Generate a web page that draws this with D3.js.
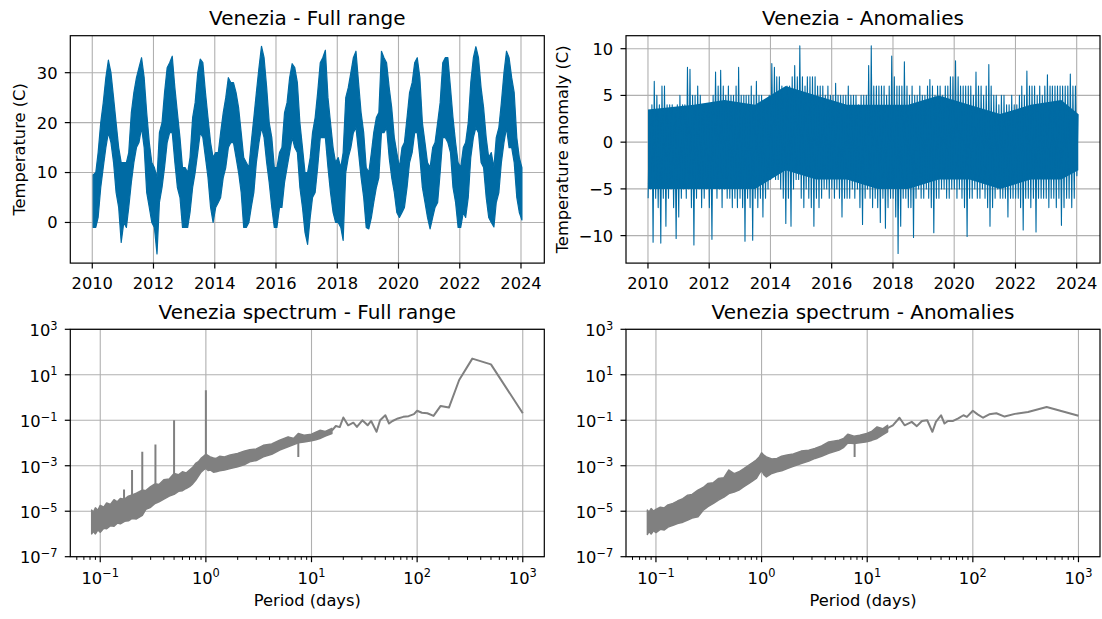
<!DOCTYPE html>
<html>
<head>
<meta charset="utf-8">
<script src="https://cdn.jsdelivr.net/npm/d3@7"></script>
<style>
body { margin: 0; background: #fff; }
svg text { font-family: "DejaVu Sans", sans-serif; fill: #000; }
</style>
</head>
<body>
<svg id="fig" width="1102" height="619"></svg>
<script>
// ---- data ----
// monthly low / high of the Venezia temperature series (C), Jan 2010 .. Jan 2024
var tempLo = [
  -1, -1, 1, 7, 11, 15, 18, 16, 12, 6, 3, -4,        // 2010
  0, -1, 3, 8, 12, 15, 16, 19, 15, 6, 3, 0,          // 2011
  -1, -6.3, 4, 7, 11, 16, 18, 18, 12, 7, 5, -1,      // 2012
  -1, -1, 2, 7, 10, 14, 18, 17, 13, 9, 3, 0,         // 2013
  3, 4, 5, 9, 11, 15, 16, 16, 13, 10, 6, -1,         // 2014
  -1, 0, 3, 6, 12, 16, 19, 17, 12, 8, 3, -1,         // 2015
  -1, 3, 3, 8, 11, 14, 17, 15, 14, 7, 3, -2,         // 2016
  -4.4, 1, 5, 6, 11, 17, 17, 17, 11, 6, 2, 0,        // 2017
  0, -1, -3.6, 10, 13, 15, 18, 19, 14, 9, 5, -1,     // 2018
  -1.3, 1, 4, 7, 9, 18, 18, 19, 13, 9, 6, 2,         // 2019
  1, 2, 3, 7, 12, 14, 18, 18, 13, 7, 4, 1,           // 2020
  -1.3, 1, 3, 4, 10, 17, 17, 16, 14, 7, 4, -1,       // 2021
  -1, 2, 1, 5, 13, 17, 19, 18, 12, 11, 5, 1,         // 2022
  0, -0.9, 4, 6, 12, 16, 19, 15, 15, 12, 5, 2,       // 2023
  0.5                                                // 2024
];
var tempHi = [
  9.5, 10, 14, 20, 24, 29, 32.5, 30, 25, 20, 15, 12,
  12, 12, 14, 22, 26, 29, 31, 33, 29, 22, 16, 12,
  11, 9, 18, 20, 26, 31, 32, 33.3, 27, 22, 17, 11,
  11, 10, 13, 21, 24, 30, 32.7, 32, 26, 21, 16, 13,
  14, 14, 18, 22, 25, 29, 28, 28, 26, 23, 18, 13,
  12, 11, 16, 21, 26, 31, 35.3, 33, 27, 20, 17, 11,
  11, 14, 15, 22, 24, 29, 31.8, 31, 28, 20, 15, 10,
  10, 13, 18, 21, 26, 32, 33, 34.5, 25, 20, 15, 12,
  13, 11, 14, 25, 27, 30, 33, 34.3, 28, 22, 18, 11,
  10, 14, 18, 21, 22, 34.3, 33, 32, 27, 23, 17, 14,
  11, 15, 16, 21, 26, 28, 32, 33, 29, 20, 16, 12,
  11, 15, 16, 20, 24, 32, 33, 33, 27, 21, 16, 12,
  11, 15, 16, 20, 28, 33, 35.2, 33, 27, 23, 17, 13,
  14, 11, 17, 19, 24, 30, 34.3, 33, 29, 26, 17, 13,
  11
];
// monthly extremes of the anomalies (C)
var anomLo = [
  -6, -5, -10.7, -6, -7, -10.8, -6, -9, -6, -5, -7, -10.3,
  -8, -6, -5, -6, -5, -7, -11, -6, -5, -7, -6, -5,
  -7, -10.4, -4, -6, -5, -7, -5, -6, -6, -7, -6, -7,
  -6, -7, -10.6, -6, -7, -10.5, -6, -7, -6, -8, -6, -5,
  -4, -3, -4, -4, -5, -6, -8.7, -6, -9, -5, -4, -4,
  -6, -7, -5, -6, -7, -9, -6, -7, -6, -5, -5, -6,
  -5, -6, -5, -6, -8, -6, -6, -6, -5, -6, -5, -7,
  -8.8, -6, -5, -6, -7, -6, -7, -8.6, -6, -9.2, -7, -6,
  -6, -8, -11.9, -9, -6, -6, -7, -7, -10.2, -6, -5, -6,
  -6, -5, -6, -7, -9.7, -6, -6, -5, -5, -6, -6, -5,
  -5, -6, -5, -6, -7, -10.1, -6, -6, -5, -6, -6, -5,
  -6, -7, -9, -7, -6, -5, -6, -6, -6, -8, -6, -6,
  -6, -6, -7, -9.4, -6, -6, -7, -6, -9.6, -6, -6, -6,
  -6, -7, -6, -6, -7, -6, -8.9, -7, -6, -6, -7, -6,
  -3.6
];
var anomHi = [
  3, 4, 6.5, 5, 4, 6, 6, 4, 4, 4, 3, 4,
  5, 4, 4, 8, 7.8, 5, 5, 6, 5, 4, 4, 4,
  4, 5, 7.5, 6, 7.7, 6, 5, 6, 5, 5, 6, 8,
  5, 5, 5, 5, 6, 5, 6.5, 5, 5, 4, 4, 5,
  8.4, 8, 7, 7, 6, 5, 6, 6, 7, 8.2, 7, 10.3,
  7, 6, 7, 7, 7, 7, 6, 6, 6, 5, 6, 5,
  5, 6.3, 5, 5, 5, 5, 6, 5, 5, 5, 4, 5,
  5, 5, 8.2, 10.3, 6, 6, 6, 6, 6, 5, 6, 9.2,
  7, 6, 6, 6, 8.6, 6, 5, 6, 5, 5, 6, 5,
  5, 6, 6.7, 6, 5, 6, 6, 5, 6, 6, 7, 7,
  8.7, 7, 6, 6, 6, 6, 6, 5, 7.5, 6, 6, 5,
  6, 8.3, 6, 5, 5, 4, 5, 5, 4, 4, 5, 4,
  4, 5, 6, 5, 7.6, 6, 6, 6, 5, 6, 5, 6,
  7.2, 6, 6, 6, 6, 6, 6, 6, 6, 7.3, 6, 6,
  3
];
// the dense core of the anomaly band, one low / high per year
var anomCoreYear = [2010, 2011, 2012, 2013, 2014, 2015, 2016, 2017, 2018, 2019, 2020, 2021, 2022, 2023, 2024];
var anomCoreLo = [-5, -5, -5, -5, -3, -4, -4, -5, -5, -4, -4, -5, -4, -4, -3];
var anomCoreHi = [3.5, 4, 4.5, 4, 6, 5, 4, 4, 4, 5, 4, 3, 4, 4.5, 3];
var yearTicks = [2010, 2012, 2014, 2016, 2018, 2020, 2022, 2024];
var tempTicks = [0, 10, 20, 30];
var anomTicks = [-10, -5, 0, 5, 10];

// spectrum, full range: dense band (period in days, low / high power)
var fullBandP = [0.083, 0.086, 0.09, 0.095, 0.1, 0.108, 0.115, 0.125, 0.135, 0.145, 0.155, 0.17, 0.185, 0.2, 0.22,
  0.25, 0.27, 0.3, 0.33, 0.36, 0.4, 0.45, 0.5, 0.55, 0.6, 0.65, 0.7, 0.75, 0.8, 0.85, 0.9, 0.95, 1.0,
  1.05, 1.1, 1.18, 1.25, 1.35, 1.5, 1.7, 2, 2.3, 2.6, 3, 3.5, 4.2, 5, 6, 6.8, 7.5, 8.5, 10, 11, 12, 13.5, 15.6];
var fullBandHi = [1.12e-5, 9e-6, 1.4e-5, 1.1e-5, 1.8e-5, 1.5e-5, 2.3e-5, 2.0e-5, 3.2e-5, 2.6e-5, 3.6e-5, 3.4e-5, 4.6e-5, 5.2e-5, 6.2e-5,
  8.5e-5, 8.0e-5, 1.2e-4, 1.6e-4, 1.5e-4, 2.4e-4, 2.6e-4, 4.6e-4, 4.0e-4, 5.4e-4, 4.8e-4, 6.5e-4, 8.5e-4, 1.26e-3, 1.5e-3, 2.1e-3, 2.6e-3, 3.2e-3,
  2.8e-3, 2.45e-3, 2.2e-3, 2.1e-3, 2.6e-3, 2.45e-3, 3.0e-3, 3.5e-3, 4.4e-3, 5.1e-3, 5.5e-3, 7.9e-3, 9.0e-3, 1.32e-2, 1.86e-2, 1.6e-2, 2.6e-2, 2.2e-2, 2.45e-2, 3.0e-2, 3.6e-2, 3.2e-2, 4.4e-2];
var fullBandLo = [1.0e-6, 1.3e-6, 1.0e-6, 1.5e-6, 1.2e-6, 1.8e-6, 1.7e-6, 2.3e-6, 2.2e-6, 3.0e-6, 2.8e-6, 3.6e-6, 3.8e-6, 4.8e-6, 4.6e-6,
  6.5e-6, 1.2e-5, 1.5e-5, 2.2e-5, 2.6e-5, 3.4e-5, 4.6e-5, 5.5e-5, 7.5e-5, 8.0e-5, 1.0e-4, 1.2e-4, 1.6e-4, 2.3e-4, 3.5e-4, 5.2e-4, 6.5e-4, 7.6e-4,
  6.2e-4, 6.5e-4, 5.2e-4, 5.4e-4, 6.0e-4, 6.5e-4, 7.5e-4, 8.9e-4, 1.1e-3, 1.48e-3, 1.7e-3, 2.45e-3, 3.2e-3, 4.9e-3, 6.8e-3, 8.5e-3, 1.02e-2, 1.1e-2, 1.26e-2, 1.4e-2, 1.58e-2, 2.0e-2, 2.6e-2];
// narrow peaks / dips
var fullSpikeP    = [0.168, 0.2, 0.25, 0.333, 0.5, 1.0, 7.5];
var fullSpikeFrom = [3.4e-5, 5e-5, 8e-5, 1.6e-4, 4.5e-4, 3e-3, 1.5e-2];
var fullSpikeTo   = [9e-5, 6.5e-4, 4.1e-3, 8.5e-3, 0.1, 2.1, 2.45e-3];
// separate points at long periods
var fullLineP = [15.6, 17, 18.5, 20, 22.2, 24.9, 26.9, 30.3, 34, 36.7, 41.3, 44.6, 50, 54.2, 58.5, 65.8, 73.9, 83, 93.3, 100, 111, 125, 143, 167, 200, 250, 333, 500, 1000];
var fullLineV = [0.035, 0.056, 0.05, 0.132, 0.06, 0.078, 0.051, 0.1, 0.06, 0.093, 0.031, 0.1, 0.166, 0.072, 0.093, 0.12, 0.141, 0.151, 0.186, 0.263, 0.214, 0.204, 0.155, 0.427, 0.363, 5.89, 51.3, 28.8, 0.204];

// spectrum, anomalies
var anomBandP = [0.083, 0.086, 0.09, 0.095, 0.1, 0.11, 0.12, 0.13, 0.145, 0.16, 0.18, 0.2, 0.22, 0.25, 0.28, 0.31, 0.35, 0.39, 0.44,
  0.49, 0.55, 0.61, 0.68, 0.76, 0.83, 0.89, 0.95, 1.0, 1.05, 1.11, 1.25, 1.4, 1.55, 1.75, 2.0, 2.37, 2.8, 3.2, 3.7, 4.32,
  5.42, 6.0, 6.55, 7.5, 8.5, 9.9, 11, 12.4, 14, 15.6];
var anomBandHi = [1.12e-5, 9e-6, 1.3e-5, 1.0e-5, 1.2e-5, 1.5e-5, 1.4e-5, 1.9e-5, 2.2e-5, 2.8e-5, 3.6e-5, 5.1e-5, 5.5e-5, 8.5e-5, 1.1e-4, 1.66e-4, 1.8e-4, 2.75e-4, 3.0e-4,
  6.5e-4, 4.5e-4, 5.4e-4, 7.5e-4, 1.07e-3, 1.4e-3, 1.78e-3, 2.4e-3, 3.7e-3, 2.9e-3, 2.45e-3, 2.0e-3, 2.1e-3, 2.6e-3, 2.95e-3, 3.3e-3, 4.4e-3, 4.8e-3, 5.75e-3, 7.5e-3, 1.12e-2,
  1.32e-2, 1.6e-2, 2.45e-2, 2.0e-2, 2.2e-2, 2.6e-2, 3.2e-2, 5.1e-2, 4.2e-2, 6.0e-2];
var anomBandLo = [9.5e-7, 1.3e-6, 1.0e-6, 1.4e-6, 1.15e-6, 1.6e-6, 1.5e-6, 2.0e-6, 2.4e-6, 2.9e-6, 3.3e-6, 4.1e-6, 5.0e-6, 5.75e-6, 1.1e-5, 1.58e-5, 2.2e-5, 3.1e-5, 4.2e-5,
  6.0e-5, 7.0e-5, 8.5e-5, 1.2e-4, 1.66e-4, 2.2e-4, 2.75e-4, 4.5e-4, 6.3e-4, 4.0e-4, 3.2e-4, 4.6e-4, 5.4e-4, 6.0e-4, 7.6e-4, 9.5e-4, 1.26e-3, 1.6e-3, 2.1e-3, 2.6e-3, 3.5e-3,
  4.9e-3, 6.5e-3, 1.0e-2, 9.5e-3, 1.02e-2, 1.12e-2, 1.3e-2, 1.58e-2, 2.3e-2, 3.1e-2];
var anomSpikeP    = [7.6];
var anomSpikeFrom = [1.5e-2];
var anomSpikeTo   = [2.45e-3];
var anomLineP = [15.6, 17.5, 20.2, 22.6, 26.4, 29.5, 33, 37, 41.4, 44.7, 50, 53.9, 58.1, 65.1, 72.8, 81.5, 87.9, 100, 111, 125, 143, 167, 200, 250, 333, 500, 1000];
var anomLineV = [0.045, 0.06, 0.129, 0.06, 0.085, 0.055, 0.093, 0.1, 0.031, 0.085, 0.166, 0.072, 0.093, 0.093, 0.12, 0.166, 0.141, 0.263, 0.182, 0.129, 0.182, 0.204, 0.145, 0.191, 0.229, 0.38, 0.158];

var periodTicks = [0.1, 1, 10, 100, 1000];
var powerTicks = [1e-7, 1e-5, 1e-3, 1e-1, 1e1, 1e3];

// ---- drawing ----
var svg = d3.select("#fig"),
    W = 474,
    H = 227.4,
    gridColor = "#b0b0b0",
    blue = "#006ba4",
    gray = "#808080",
    tickFont = 16.3;

function panel(px, py, id) {
    svg.append("clipPath").attr("id", id)
        .append("rect").attr("width", W).attr("height", H);
    return svg.append("g").attr("transform", "translate(" + px + "," + py + ")");
}

function grid(g, x, y, xt, yt) {
    g.append("g").selectAll("line").data(xt).join("line")
        .attr("x1", function(d) { return x(d); })
        .attr("x2", function(d) { return x(d); })
        .attr("y1", 0).attr("y2", H)
        .attr("stroke", gridColor).attr("stroke-width", 1.1);
    g.append("g").selectAll("line").data(yt).join("line")
        .attr("y1", function(d) { return y(d); })
        .attr("y2", function(d) { return y(d); })
        .attr("x1", 0).attr("x2", W)
        .attr("stroke", gridColor).attr("stroke-width", 1.1);
}

function powLabel(sel) {
    sel.each(function(d) {
        var t = d3.select(this),
            e = Math.round(Math.log10(d));
        t.append("tspan").text("10");
        t.append("tspan").attr("dy", -6.5).attr("font-size", 11.4)
            .text(e < 0 ? "\u2212" + (-e) : String(e));
    });
}

function frame(g, x, y, xt, yt, xfmt, yfmt, minor) {
    g.append("g").selectAll("line").data(xt).join("line")
        .attr("x1", function(d) { return x(d); })
        .attr("x2", function(d) { return x(d); })
        .attr("y1", H).attr("y2", H + 5.5)
        .attr("stroke", "#000").attr("stroke-width", 1.2);
    g.append("g").selectAll("line").data(yt).join("line")
        .attr("y1", function(d) { return y(d); })
        .attr("y2", function(d) { return y(d); })
        .attr("x1", -5.5).attr("x2", 0)
        .attr("stroke", "#000").attr("stroke-width", 1.2);
    if (minor) {
        g.append("g").selectAll("line").data(minor).join("line")
            .attr("x1", function(d) { return x(d); })
            .attr("x2", function(d) { return x(d); })
            .attr("y1", H).attr("y2", H + 3.2)
            .attr("stroke", "#000").attr("stroke-width", 1);
    }
    g.append("rect").attr("width", W).attr("height", H)
        .attr("fill", "none").attr("stroke", "#000").attr("stroke-width", 1.2);

    var xl = g.append("g").selectAll("text").data(xt).join("text")
        .attr("x", function(d) { return x(d); })
        .attr("y", H + (xfmt ? 26 : 27.3))
        .attr("text-anchor", "middle")
        .attr("font-size", tickFont);
    if (xfmt) xl.text(xfmt); else powLabel(xl);

    var yl = g.append("g").selectAll("text").data(yt).join("text")
        .attr("x", -12.8)
        .attr("y", function(d) { return y(d); })
        .attr("dy", yfmt ? 5.9 : 6.8)
        .attr("text-anchor", "end")
        .attr("font-size", tickFont);
    if (yfmt) yl.text(yfmt); else powLabel(yl);
}

function title(px, py, s) {
    svg.append("text").attr("x", px + W / 2).attr("y", py - 10.5)
        .attr("text-anchor", "middle").attr("font-size", 20).text(s);
}

function ylabel(x, py, s) {
    svg.append("text")
        .attr("transform", "translate(" + x + "," + (py + H / 2) + ") rotate(-90)")
        .attr("text-anchor", "middle").attr("font-size", tickFont).text(s);
}

var minus = function(d) { return d < 0 ? "\u2212" + (-d) : String(d); };

// time series panels
var tx = d3.scaleTime()
    .domain([new Date(2009, 3, 14), new Date(2024, 9, 5)])
    .range([0, W]);
var yearDates = yearTicks.map(function(yr) { return new Date(yr, 0, 1); });

// full range: the monthly low-high envelope
(function() {
    var y = d3.scaleLinear().domain([-8.14, 37.41]).range([H, 0]),
        g = panel(70.3, 35.7, "c1");
    grid(g, tx, y, yearDates, tempTicks);
    var area = d3.area()
        .x(function(i) { return tx(new Date(2010, i, 12)); })
        .y0(function(i) { return y(tempLo[i]); })
        .y1(function(i) { return y(tempHi[i]); });
    g.append("path")
        .datum(d3.range(tempLo.length))
        .attr("clip-path", "url(#c1)")
        .attr("fill", blue).attr("stroke", blue).attr("stroke-width", 1.2)
        .attr("stroke-linejoin", "round")
        .attr("d", area);
    frame(g, tx, y, yearDates, tempTicks, d3.timeFormat("%Y"), minus);
    ylabel(24.5, 35.7, "Temperature (C)");
    title(70.3, 35.7, "Venezia - Full range");
})();

// anomalies: dense core plus the monthly extremes as a thin zig-zag line
(function() {
    var y = d3.scaleLinear().domain([-12.94, 11.39]).range([H, 0]),
        g = panel(626, 35.7, "c2");
    grid(g, tx, y, yearDates, anomTicks);
    var clip = g.append("g").attr("clip-path", "url(#c2)");
    var last = anomCoreYear.length - 1;
    var core = d3.area()
        .x(function(i) {
            return tx(i === 0 ? new Date(2010, 0, 1)
                    : i === last ? new Date(2024, 0, 20)
                    : new Date(anomCoreYear[i], 6, 1));
        })
        .y0(function(i) { return y(anomCoreLo[i]); })
        .y1(function(i) { return y(anomCoreHi[i]); });
    clip.append("path")
        .datum(d3.range(anomCoreYear.length))
        .attr("fill", blue)
        .attr("d", core);
    var pts = [];
    anomLo.forEach(function(v, i) {
        pts.push([new Date(2010, i, 3), v]);
        pts.push([new Date(2010, i, 17), anomHi[i]]);
    });
    var line = d3.line()
        .x(function(d) { return tx(d[0]); })
        .y(function(d) { return y(d[1]); });
    clip.append("path")
        .datum(pts)
        .attr("fill", "none").attr("stroke", blue).attr("stroke-width", 1.1)
        .attr("stroke-linejoin", "round")
        .attr("d", line);
    frame(g, tx, y, yearDates, anomTicks, d3.timeFormat("%Y"), minus);
    ylabel(568, 35.7, "Temperature anomaly (C)");
    title(626, 35.7, "Venezia - Anomalies");
})();

// spectrum panels
var sx = d3.scaleLog().domain([Math.pow(10, -1.2835), Math.pow(10, 3.2039)]).range([0, W]),
    sy = d3.scaleLog().domain([1e-7, 1e3]).range([H, 0]);
var minorP = [];
[0.01, 0.1, 1, 10, 100].forEach(function(dec) {
    for (var m = 2; m <= 9; m++) {
        var v = m * dec;
        if (v > sx.domain()[0] && v < sx.domain()[1]) minorP.push(v);
    }
});

function spectrumPanel(px, py, id, bp, blo, bhi, spP, spFrom, spTo, lp, lv) {
    var g = panel(px, py, id);
    grid(g, sx, sy, periodTicks, powerTicks);
    var data = g.append("g").attr("clip-path", "url(#" + id + ")");
    var area = d3.area()
        .x(function(i) { return sx(bp[i]); })
        .y0(function(i) { return sy(blo[i]); })
        .y1(function(i) { return sy(bhi[i]); });
    data.append("path")
        .datum(d3.range(bp.length))
        .attr("fill", gray).attr("stroke", gray).attr("stroke-width", 1.5)
        .attr("stroke-linejoin", "round")
        .attr("d", area);
    data.append("g").selectAll("line").data(d3.range(spP.length)).join("line")
        .attr("x1", function(i) { return sx(spP[i]); })
        .attr("x2", function(i) { return sx(spP[i]); })
        .attr("y1", function(i) { return sy(spFrom[i]); })
        .attr("y2", function(i) { return sy(spTo[i]); })
        .attr("stroke", gray).attr("stroke-width", 2);
    var line = d3.line()
        .x(function(i) { return sx(lp[i]); })
        .y(function(i) { return sy(lv[i]); });
    data.append("path")
        .datum(d3.range(lp.length))
        .attr("fill", "none").attr("stroke", gray).attr("stroke-width", 2)
        .attr("stroke-linejoin", "round")
        .attr("d", line);
    frame(g, sx, sy, periodTicks, powerTicks, null, null, minorP);
    svg.append("text").attr("x", px + W / 2).attr("y", 605.5)
        .attr("text-anchor", "middle").attr("font-size", tickFont).text("Period (days)");
}

spectrumPanel(70.3, 329.3, "c3", fullBandP, fullBandLo, fullBandHi,
    fullSpikeP, fullSpikeFrom, fullSpikeTo, fullLineP, fullLineV);
title(70.3, 329.3, "Venezia spectrum - Full range");
spectrumPanel(626, 329.3, "c4", anomBandP, anomBandLo, anomBandHi,
    anomSpikeP, anomSpikeFrom, anomSpikeTo, anomLineP, anomLineV);
title(626, 329.3, "Venezia spectrum - Anomalies");
</script>
</body>
</html>
